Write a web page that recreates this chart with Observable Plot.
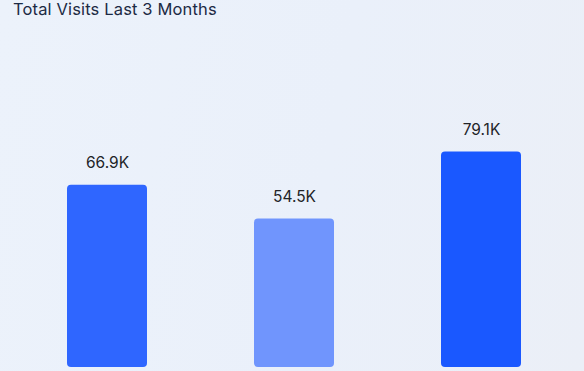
<!DOCTYPE html>
<html>
<head>
<meta charset="utf-8">
<script src="https://cdn.jsdelivr.net/npm/d3@7"></script>
<script src="https://cdn.jsdelivr.net/npm/@observablehq/plot@0.6"></script>
<style>
  html, body { margin: 0; padding: 0; }
  body {
    width: 584px; height: 371px; overflow: hidden;
    background: linear-gradient(100deg, #ecf2fb 0%, #eaf0fa 55%, #ebeff7 100%);
    font-family: Inter, "DejaVu Sans", sans-serif;
  }
  #title {
    height: 30px; box-sizing: border-box; padding: 0 0 0 13px;
    font-size: 16.5px; line-height: 20px; color: #1c2a44; letter-spacing: 0.15px;
    margin-top: -1px;
  }
  #chart svg { display: block; }
</style>
</head>
<body>
<div id="title">Total Visits Last 3 Months</div>
<div id="chart"></div>
<script>
const months = ["Month 1", "Month 2", "Month 3"];
const visits = [66.9, 54.5, 79.1];
const labels = ["66.9K", "54.5K", "79.1K"];
const colors = ["#2f66ff", "#7095fd", "#1a58ff"];

const data = months.map((m, i) => ({month: m, visits: visits[i], label: labels[i], color: colors[i]}));

const chart = Plot.plot({
  width: 584,
  height: 342,
  marginTop: 0, marginBottom: 0, marginLeft: 0, marginRight: 0,
  style: {background: "transparent", fontFamily: "Inter, 'DejaVu Sans', sans-serif"},
  x: {domain: months, range: [13.5, 574.5], paddingInner: 0.572, paddingOuter: 0.286, axis: null},
  y: {domain: [0, 120], range: [338, 11], axis: null},
  marks: [
    Plot.barY(data, {x: "month", y: "visits", fill: "color", rx: 4}),
    Plot.text(data, {x: "month", y: "visits", text: "label", dy: -22, fontSize: 15.5, fill: "#222428"})
  ]
});
document.getElementById("chart").appendChild(chart);
</script>
</body>
</html>
